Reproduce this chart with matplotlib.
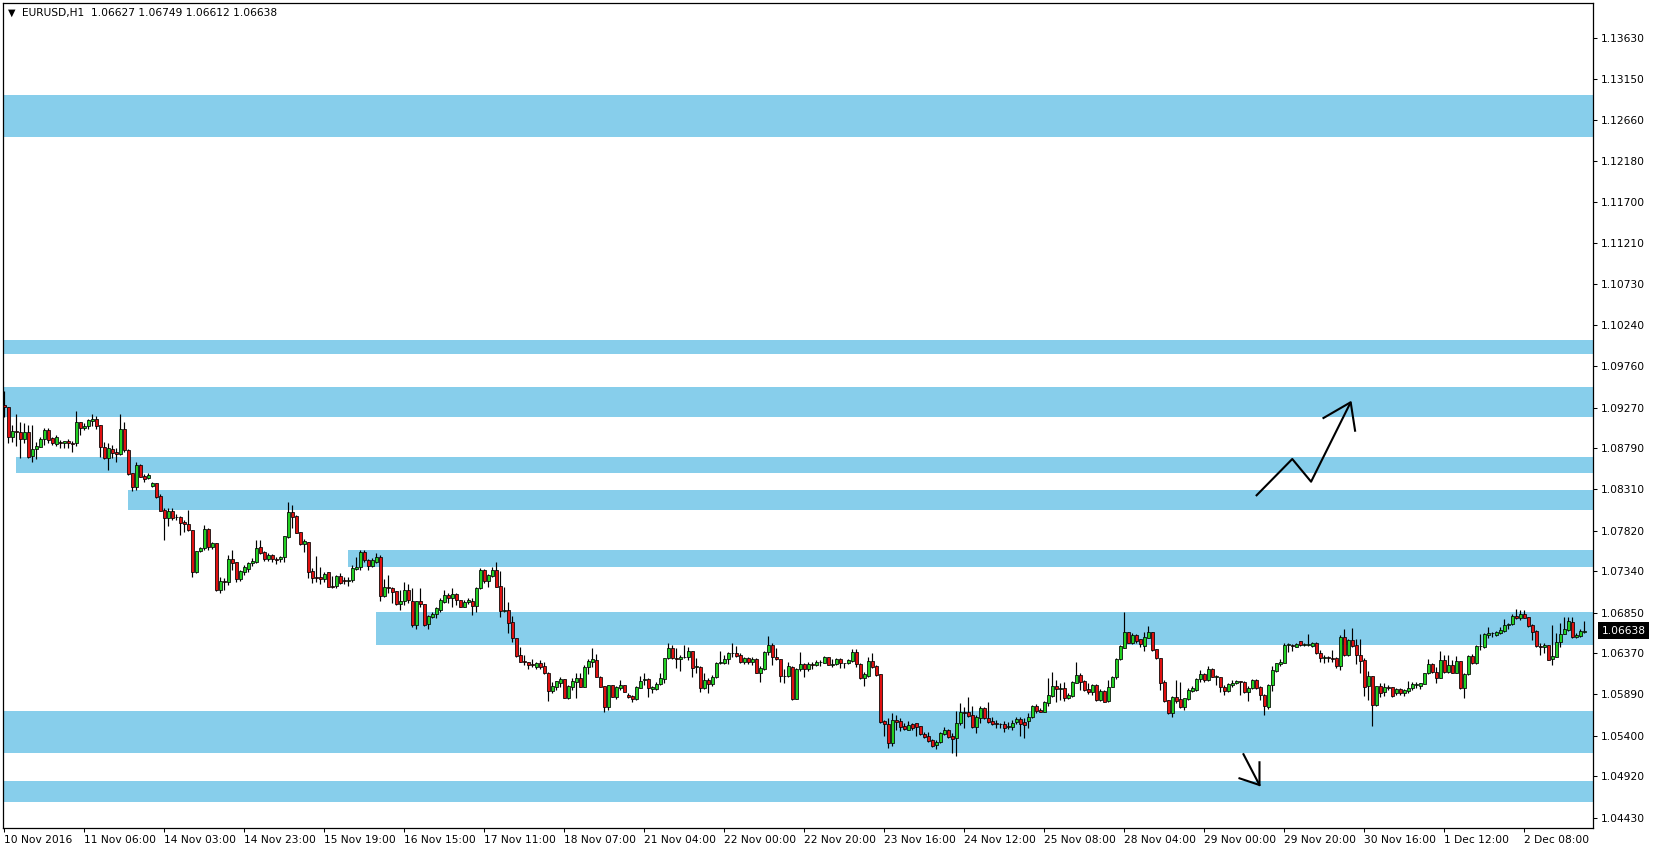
import numpy as np
import matplotlib
matplotlib.use("Agg")
import matplotlib.pyplot as plt
from matplotlib.transforms import blended_transform_factory

plt.rcParams['font.family'] = ['DejaVu Sans']

SYMBOL = "EURUSD,H1"
# hourly candles, values in pips above 1.0000 (1 pip = 0.0001)
open_pips = [
    930.0, 927.4, 892.8, 899.5, 898.7, 890.4, 898.7, 870.4, 877.9, 881.0,
    889.7, 900.3, 890.8, 884.5, 886.5, 884.9, 887.7, 885.7, 884.9, 909.7,
    902.6, 905.4, 910.9, 913.3, 906.6, 880.2, 868.0, 877.9, 874.7, 872.0,
    901.9, 877.1, 849.5, 833.0, 859.0, 846.0, 843.6, 835.0, 837.7, 822.8,
    806.2, 796.4, 805.0, 798.0, 798.0, 792.1, 789.3, 782.2, 733.4, 757.8,
    761.0, 783.4, 763.0, 766.9, 711.8, 722.4, 721.6, 748.0, 744.4, 724.4,
    733.4, 736.2, 743.7, 745.2, 762.2, 756.3, 748.0, 753.1, 748.4, 748.0,
    750.4, 774.0, 803.5, 799.2, 779.9, 765.7, 768.1, 734.2, 727.1, 727.1,
    724.4, 732.6, 716.5, 716.5, 728.3, 723.6, 722.4, 723.6, 737.0, 738.6,
    756.7, 746.8, 740.5, 745.2, 750.8, 705.1, 715.7, 713.8, 710.6, 694.9,
    699.0, 711.8, 699.2, 670.5, 698.8, 694.9, 671.6, 680.3, 683.1, 688.2,
    698.0, 705.9, 701.9, 707.1, 700.0, 692.1, 698.0, 698.8, 693.3, 713.7,
    735.4, 722.8, 728.3, 735.4, 716.5, 687.4, 688.2, 674.0, 654.7, 634.7,
    627.6, 626.4, 624.0, 621.3, 625.2, 622.1, 614.2, 592.9, 597.7, 602.4,
    606.7, 583.9, 597.7, 603.6, 607.5, 597.7, 620.5, 627.2, 629.1, 609.5,
    598.5, 573.3, 599.2, 585.9, 596.5, 599.2, 587.8, 587.0, 582.7, 596.5,
    605.5, 606.7, 595.3, 594.5, 600.4, 606.3, 631.1, 643.3, 631.5, 629.9,
    633.1, 632.3, 639.8, 620.5, 621.3, 595.7, 605.6, 600.4, 608.7, 625.2,
    625.2, 630.0, 637.0, 637.0, 635.1, 627.2, 631.1, 627.2, 630.3, 614.2,
    618.2, 638.2, 646.9, 632.3, 630.0, 610.7, 610.3, 621.3, 583.1, 618.2,
    624.1, 618.2, 624.1, 623.7, 626.6, 626.0, 632.3, 623.7, 624.1, 630.0,
    625.2, 625.2, 628.4, 638.2, 624.1, 608.3, 610.3, 628.0, 622.1, 612.2,
    557.2, 553.2, 531.6, 558.3, 557.2, 551.3, 546.9, 553.2, 554.8, 550.9,
    541.8, 539.1, 534.7, 529.2, 532.0, 541.8, 546.5, 539.5, 536.7, 554.4,
    567.8, 567.8, 563.9, 550.5, 561.1, 572.1, 560.7, 557.2, 554.4, 553.6,
    554.0, 549.7, 550.5, 555.6, 559.5, 556.0, 556.8, 561.5, 574.9, 570.1,
    568.2, 578.0, 587.1, 598.5, 594.5, 595.7, 584.7, 586.7, 602.4, 611.5,
    604.4, 595.3, 591.8, 599.3, 582.0, 593.0, 581.0, 597.0, 608.7, 630.0,
    643.7, 661.8, 649.6, 658.7, 653.6, 646.1, 655.5, 661.8, 641.8, 631.1,
    603.6, 582.0, 567.0, 585.1, 582.7, 574.1, 583.1, 593.0, 593.8, 606.7,
    612.6, 605.0, 618.5, 609.5, 608.7, 596.9, 593.0, 599.7, 601.6, 604.4,
    603.6, 591.8, 595.7, 605.6, 596.9, 587.9, 574.1, 599.7, 616.6, 624.4,
    626.0, 646.9, 646.9, 644.9, 651.2, 647.3, 647.3, 646.1, 649.6, 637.8,
    631.1, 632.3, 631.1, 631.1, 622.1, 655.9, 635.1, 652.8, 646.9, 635.1,
    629.2, 598.9, 610.3, 576.0, 598.5, 591.4, 596.9, 596.9, 590.6, 594.9,
    589.8, 593.0, 595.7, 599.3, 598.5, 601.2, 613.4, 624.4, 614.6, 608.3,
    628.8, 614.6, 623.3, 614.2, 628.0, 595.7, 612.6, 633.9, 625.2, 645.7,
    644.9, 659.1, 661.4, 659.1, 661.4, 663.8, 670.5, 671.3, 681.1, 678.4,
    683.5, 679.5, 670.5, 663.4, 645.7, 644.1, 646.9, 629.9, 633.1, 650.0,
    660.2, 664.6, 674.0, 656.7, 657.9, 662.7,
]
high_pips = [
    946.7, 927.4, 906.6, 919.6, 909.7, 908.5, 906.6, 906.6, 886.5, 892.8,
    903.4, 902.6, 892.0, 894.8, 888.9, 887.7, 889.7, 888.1, 923.1, 910.5,
    908.5, 913.3, 919.2, 917.2, 906.6, 886.5, 884.9, 883.0, 879.0, 919.6,
    909.7, 878.0, 850.0, 863.3, 860.0, 848.3, 849.5, 839.7, 838.0, 824.7,
    808.2, 808.2, 808.2, 801.1, 799.2, 794.4, 806.2, 782.5, 757.8, 763.0,
    788.5, 784.6, 768.0, 767.5, 727.5, 725.6, 753.1, 759.0, 745.0, 735.4,
    741.3, 745.2, 749.2, 770.8, 770.8, 757.8, 755.1, 754.3, 751.2, 751.9,
    775.5, 816.1, 812.1, 800.3, 780.5, 771.6, 769.0, 737.4, 752.3, 739.3,
    732.6, 733.0, 728.3, 729.5, 732.3, 727.5, 727.5, 741.3, 751.2, 759.0,
    759.0, 748.4, 749.2, 755.1, 753.1, 724.4, 729.5, 715.0, 711.0, 711.8,
    721.6, 718.9, 713.7, 699.2, 713.7, 695.5, 681.9, 686.2, 692.1, 701.9,
    711.8, 707.8, 713.7, 707.8, 700.5, 700.0, 701.9, 701.9, 715.7, 737.4,
    736.0, 730.7, 739.3, 744.4, 734.2, 715.7, 698.0, 681.1, 655.0, 644.9,
    635.0, 627.0, 629.9, 626.4, 629.1, 627.2, 614.5, 603.6, 604.4, 609.5,
    607.0, 599.6, 608.3, 613.4, 613.4, 623.2, 629.9, 642.9, 636.2, 610.0,
    599.0, 599.6, 599.6, 598.5, 605.5, 599.8, 590.6, 587.8, 598.5, 610.3,
    614.2, 607.5, 598.5, 602.8, 613.4, 631.1, 648.8, 646.9, 642.9, 635.0,
    646.9, 644.9, 640.0, 631.1, 622.1, 613.4, 607.5, 611.5, 627.2, 639.8,
    635.1, 639.0, 649.6, 645.7, 637.8, 633.1, 632.3, 632.3, 631.1, 622.1,
    639.8, 657.5, 648.8, 642.9, 630.7, 618.5, 627.2, 621.5, 619.3, 639.0,
    626.0, 627.2, 627.2, 629.2, 629.2, 633.9, 633.1, 630.0, 631.1, 631.1,
    626.0, 630.0, 642.2, 642.2, 625.2, 615.4, 632.3, 637.0, 623.3, 612.5,
    558.3, 560.3, 566.2, 564.3, 560.3, 555.2, 557.6, 554.4, 555.2, 551.0,
    544.6, 544.6, 535.5, 534.7, 543.8, 550.5, 548.1, 542.6, 569.0, 578.8,
    573.3, 585.9, 574.9, 564.3, 574.9, 574.1, 579.6, 562.3, 558.3, 555.2,
    557.6, 556.0, 558.3, 561.5, 562.3, 560.3, 566.2, 576.0, 577.2, 572.1,
    581.2, 607.5, 615.4, 605.6, 602.4, 603.6, 589.8, 604.4, 626.8, 613.4,
    605.6, 601.6, 600.4, 600.4, 594.5, 593.8, 605.6, 610.3, 631.1, 646.9,
    686.2, 662.6, 660.6, 659.5, 654.4, 662.6, 669.3, 662.6, 642.0, 631.5,
    605.6, 582.5, 586.7, 605.6, 603.6, 584.7, 595.7, 598.5, 607.5, 617.4,
    614.0, 622.1, 619.3, 611.5, 609.5, 599.7, 601.6, 605.6, 605.6, 604.8,
    604.4, 598.5, 606.3, 607.1, 598.5, 589.0, 600.4, 622.1, 626.0, 630.7,
    648.8, 649.6, 647.7, 649.6, 652.0, 649.6, 659.9, 650.8, 650.4, 641.0,
    635.1, 634.3, 641.0, 633.1, 658.7, 665.4, 653.6, 666.5, 653.6, 653.6,
    631.1, 616.2, 610.5, 598.9, 601.6, 601.6, 599.7, 597.7, 596.5, 596.5,
    594.9, 604.8, 603.6, 603.6, 602.4, 614.2, 630.0, 626.0, 621.3, 639.8,
    635.1, 635.1, 629.2, 633.9, 628.5, 614.2, 635.1, 635.9, 646.9, 659.9,
    661.4, 667.7, 662.6, 663.8, 667.7, 677.2, 673.2, 683.5, 689.4, 688.2,
    688.2, 680.3, 671.3, 664.6, 648.8, 649.6, 647.0, 670.5, 660.6, 672.5,
    680.3, 680.3, 680.3, 661.4, 665.8, 674.9,
]
low_pips = [
    916.4, 885.7, 886.9, 881.8, 868.0, 884.9, 868.0, 863.3, 866.8, 881.0,
    883.0, 885.7, 883.0, 882.2, 879.8, 879.8, 879.8, 874.3, 881.8, 894.8,
    900.7, 901.5, 905.8, 902.3, 869.2, 866.8, 853.1, 867.2, 863.3, 871.2,
    875.1, 848.0, 829.1, 829.8, 845.0, 839.7, 842.4, 833.8, 820.0, 805.0,
    770.8, 787.3, 794.4, 794.4, 776.7, 780.7, 781.4, 727.5, 732.3, 756.3,
    759.0, 759.0, 760.0, 711.0, 708.6, 711.8, 717.7, 735.4, 721.6, 722.4,
    729.5, 733.4, 740.1, 744.0, 754.3, 746.4, 746.4, 745.2, 742.5, 745.2,
    745.2, 772.8, 784.6, 778.7, 765.0, 757.0, 725.6, 720.4, 721.6, 718.9,
    721.6, 714.9, 713.8, 714.5, 718.9, 718.9, 716.5, 721.6, 735.4, 735.4,
    745.2, 735.4, 739.3, 744.0, 699.2, 703.9, 707.9, 696.0, 694.1, 688.2,
    694.1, 696.0, 668.5, 665.3, 692.1, 669.3, 666.1, 678.7, 678.7, 686.2,
    696.0, 696.8, 691.3, 694.1, 691.3, 691.3, 695.3, 682.3, 686.2, 712.6,
    719.7, 714.9, 727.5, 714.9, 680.3, 686.2, 661.4, 650.8, 633.1, 627.0,
    623.2, 618.9, 620.5, 618.9, 618.9, 612.6, 581.1, 589.8, 593.7, 597.7,
    583.9, 582.7, 593.7, 583.9, 596.9, 596.9, 612.6, 621.3, 608.7, 596.9,
    568.1, 570.1, 585.1, 583.5, 593.7, 591.4, 584.7, 580.0, 581.9, 595.7,
    599.6, 585.9, 590.6, 594.0, 599.6, 602.4, 629.9, 629.9, 619.3, 616.6,
    631.1, 629.1, 609.5, 613.4, 591.8, 594.5, 589.8, 598.5, 608.3, 624.1,
    624.1, 624.1, 633.1, 632.3, 625.2, 624.1, 624.4, 623.3, 613.4, 603.6,
    617.4, 635.1, 623.3, 629.2, 603.6, 602.4, 609.5, 582.0, 582.7, 616.6,
    609.5, 616.6, 618.2, 622.1, 622.1, 625.2, 623.3, 621.3, 623.3, 619.3,
    619.3, 624.4, 627.2, 621.3, 606.3, 598.5, 609.5, 619.3, 610.3, 555.2,
    539.5, 525.7, 527.6, 546.5, 545.7, 546.5, 546.5, 546.5, 539.5, 540.6,
    536.7, 532.8, 526.9, 524.1, 530.8, 540.6, 537.5, 519.8, 516.2, 552.4,
    548.5, 562.3, 549.3, 542.6, 555.2, 559.5, 554.4, 552.4, 548.5, 549.3,
    544.6, 548.1, 546.5, 553.6, 539.5, 537.5, 548.5, 561.1, 566.2, 567.4,
    567.4, 574.9, 585.9, 580.0, 582.0, 580.8, 582.7, 585.9, 601.6, 593.8,
    593.0, 589.0, 587.9, 581.2, 580.8, 579.6, 580.0, 596.9, 607.1, 629.2,
    642.9, 648.8, 648.1, 649.6, 644.9, 640.2, 654.7, 640.2, 630.7, 593.8,
    580.0, 565.0, 562.3, 578.8, 572.1, 570.1, 582.0, 591.8, 593.0, 603.6,
    603.0, 604.0, 608.7, 599.7, 591.8, 587.9, 591.8, 597.7, 600.4, 587.9,
    590.6, 581.2, 594.5, 595.3, 582.0, 564.2, 570.9, 593.0, 615.4, 622.1,
    625.2, 639.0, 640.2, 644.1, 645.7, 645.7, 645.7, 644.9, 636.3, 627.2,
    626.0, 627.2, 627.2, 619.3, 617.4, 634.3, 634.3, 644.9, 624.4, 613.4,
    586.7, 581.9, 551.3, 574.9, 585.9, 586.7, 593.8, 585.9, 587.8, 587.8,
    587.1, 589.8, 593.8, 595.7, 594.5, 600.8, 612.6, 613.4, 601.6, 607.5,
    614.2, 614.2, 613.4, 613.4, 594.5, 583.9, 611.5, 624.4, 624.4, 641.0,
    643.7, 654.7, 656.7, 657.5, 659.9, 662.6, 665.8, 670.5, 677.2, 676.4,
    678.4, 667.7, 652.8, 644.9, 635.1, 637.0, 629.0, 623.3, 632.3, 644.1,
    659.5, 663.8, 654.7, 654.7, 656.7, 661.2,
]
close_pips = [
    927.4, 892.8, 899.5, 898.7, 890.4, 898.7, 869.2, 877.9, 881.8, 889.7,
    900.3, 888.9, 884.9, 892.0, 884.9, 887.7, 884.9, 883.8, 909.7, 902.6,
    905.4, 912.5, 913.7, 905.8, 880.2, 868.0, 879.0, 873.1, 872.0, 901.9,
    877.1, 849.1, 833.8, 859.4, 845.6, 842.8, 847.5, 837.7, 822.0, 805.4,
    796.4, 805.0, 797.2, 797.6, 791.3, 789.3, 782.2, 733.4, 757.8, 761.0,
    783.4, 762.2, 766.9, 711.8, 722.4, 721.6, 748.0, 744.0, 724.4, 734.2,
    738.6, 743.7, 746.0, 761.0, 755.9, 748.0, 753.1, 748.0, 747.2, 750.4,
    775.5, 803.5, 797.6, 779.5, 765.7, 769.6, 733.4, 726.3, 726.3, 725.2,
    730.7, 715.7, 715.7, 728.3, 720.4, 722.4, 723.6, 737.4, 738.6, 756.7,
    747.2, 740.5, 747.2, 750.8, 705.1, 714.9, 713.8, 709.8, 694.9, 698.8,
    711.8, 700.0, 670.5, 699.2, 694.9, 670.5, 681.1, 683.4, 690.9, 700.0,
    705.9, 701.9, 707.1, 700.0, 692.1, 698.0, 700.0, 693.3, 713.7, 735.4,
    722.8, 729.5, 735.4, 715.7, 687.4, 688.2, 672.4, 654.7, 633.9, 627.2,
    626.4, 623.6, 622.9, 625.2, 621.3, 613.4, 592.9, 598.5, 604.4, 606.3,
    584.7, 598.5, 604.4, 607.5, 597.7, 620.5, 628.0, 630.3, 609.5, 597.7,
    573.3, 599.2, 585.9, 597.3, 599.6, 591.8, 585.9, 582.7, 597.3, 604.4,
    606.7, 595.7, 597.3, 601.2, 607.9, 631.1, 643.3, 631.1, 630.7, 633.1,
    632.3, 639.8, 620.1, 621.7, 595.7, 605.6, 600.4, 609.5, 625.2, 627.2,
    630.0, 637.0, 637.8, 634.3, 627.2, 631.1, 627.2, 630.3, 614.2, 619.3,
    638.2, 646.9, 632.3, 630.0, 610.7, 609.9, 622.1, 583.1, 618.2, 624.1,
    618.2, 624.1, 623.3, 626.8, 627.0, 632.3, 623.7, 624.1, 630.0, 625.2,
    625.6, 629.2, 638.2, 624.1, 608.3, 612.6, 628.0, 621.3, 611.5, 556.0,
    553.2, 531.6, 558.3, 556.4, 550.1, 548.1, 552.4, 549.3, 550.5, 541.4,
    538.3, 533.9, 527.6, 532.4, 542.6, 546.5, 538.3, 535.5, 554.4, 567.8,
    566.6, 563.5, 550.5, 562.3, 572.1, 560.3, 556.4, 554.0, 553.6, 554.0,
    549.3, 551.3, 554.4, 559.1, 553.2, 552.0, 561.5, 574.9, 569.4, 568.2,
    579.2, 587.9, 598.5, 594.5, 595.7, 584.7, 587.5, 603.2, 611.5, 603.6,
    593.8, 591.8, 599.3, 582.0, 593.0, 580.0, 597.0, 608.7, 630.0, 645.7,
    661.8, 649.6, 658.7, 652.0, 647.7, 656.7, 661.8, 641.0, 631.1, 602.4,
    581.2, 567.0, 585.1, 581.2, 574.1, 583.9, 593.8, 595.7, 606.7, 612.6,
    605.0, 618.5, 609.5, 609.9, 596.9, 593.0, 600.4, 602.4, 604.4, 603.6,
    591.8, 596.5, 605.6, 596.5, 587.5, 574.9, 599.7, 617.4, 625.2, 627.2,
    646.9, 647.7, 645.7, 648.1, 647.3, 648.1, 647.7, 649.6, 637.0, 631.1,
    632.3, 631.1, 630.7, 622.1, 655.9, 635.1, 652.8, 646.1, 635.1, 628.4,
    597.7, 610.3, 576.4, 598.1, 590.6, 596.9, 596.1, 587.1, 594.9, 589.8,
    593.8, 596.1, 600.4, 600.8, 601.6, 613.4, 624.4, 614.6, 608.3, 628.8,
    614.6, 623.3, 614.2, 627.6, 595.7, 612.6, 633.9, 625.2, 645.7, 646.1,
    659.9, 661.4, 660.7, 662.2, 664.6, 670.5, 672.1, 681.1, 678.4, 683.5,
    679.1, 669.3, 662.6, 646.1, 644.1, 646.9, 629.2, 633.9, 650.4, 660.2,
    665.8, 675.2, 656.7, 658.7, 663.4, 663.8,
]

time_labels = ["10 Nov 2016", "11 Nov 06:00", "14 Nov 03:00", "14 Nov 23:00",
               "15 Nov 19:00", "16 Nov 15:00", "17 Nov 11:00", "18 Nov 07:00",
               "21 Nov 04:00", "22 Nov 00:00", "22 Nov 20:00", "23 Nov 16:00",
               "24 Nov 12:00", "25 Nov 08:00", "28 Nov 04:00", "29 Nov 00:00",
               "29 Nov 20:00", "30 Nov 16:00", "1 Dec 12:00", "2 Dec 08:00"]
price_ticks = [1.13630, 1.13150, 1.12660, 1.12180, 1.11700, 1.11210, 1.10730,
               1.10240, 1.09760, 1.09270, 1.08790, 1.08310, 1.07820, 1.07340,
               1.06850, 1.06370, 1.05890, 1.05400, 1.04920, 1.04430]

# support / resistance zones
zone_top = [1.12961, 1.10074, 1.09518, 1.08684, 1.08298, 1.07590, 1.06861, 1.05690, 1.04867]
zone_bottom = [1.12469, 1.09899, 1.09164, 1.08503, 1.08062, 1.07393, 1.06465, 1.05194, 1.04619]
zone_start_bar = [-5, -5, -5, 3, 31, 86, 93, -5, -5]

# hand drawn arrows (bar index, price)
up_path_x = [312.9, 322.0, 326.7, 336.6]
up_path_y = [1.08227, 1.08664, 1.08396, 1.09334]
up_head_x = [329.8, 336.6, 337.7]
up_head_y = [1.09148, 1.09334, 1.08998]
down_path_x = [309.8, 313.8]
down_path_y = [1.05179, 1.04816]
down_head_x = [308.8, 313.8, 313.8]
down_head_y = [1.04895, 1.04816, 1.05084]

# ---------------------------------------------------------------
n = min(len(open_pips), len(high_pips), len(low_pips), len(close_pips))
o = 1.0 + np.array(open_pips[:n]) / 1e4
h = 1.0 + np.array(high_pips[:n]) / 1e4
l = 1.0 + np.array(low_pips[:n]) / 1e4
c = 1.0 + np.array(close_pips[:n]) / 1e4
h = np.maximum(h, np.maximum(o, c))
l = np.minimum(l, np.minimum(o, c))
x = np.arange(n)

W, H = 1654, 852
fig = plt.figure(figsize=(W / 100, H / 100), dpi=100)
fig.patch.set_facecolor('white')
ax_left, ax_right, ax_top, ax_bot = 2.7, 1592.7, 2.7, 827.7
ax = fig.add_axes([ax_left / W, 1 - ax_bot / H, (ax_right - ax_left) / W, (ax_bot - ax_top) / H])
ax.set_facecolor('white')

XMAX = 397.1
ax.set_xlim(-0.375, XMAX)
ax.set_ylim(1.04312, 1.14050)

for top, bot, st in zip(zone_top, zone_bottom, zone_start_bar):
    ax.fill_between([st, XMAX + 5], bot, top, color='#87CEEB', lw=0, zorder=1)

ax.vlines(x, l, h, color='black', lw=0.85, zorder=2)
bull = c >= o
body_bot = np.minimum(o, c)
body_h = np.maximum(np.abs(c - o), 0.000005)
ax.bar(x[bull], body_h[bull], bottom=body_bot[bull], width=0.72, color='#22d022',
       edgecolor='black', linewidth=0.55, zorder=3)
ax.bar(x[~bull], body_h[~bull], bottom=body_bot[~bull], width=0.72, color='#e01010',
       edgecolor='black', linewidth=0.55, zorder=3)

ax.plot(up_path_x, up_path_y, color='black', lw=1.5, zorder=4, solid_capstyle='butt')
ax.plot(up_head_x, up_head_y, color='black', lw=1.5, zorder=4)
ax.plot(down_path_x, down_path_y, color='black', lw=1.5, zorder=4)
ax.plot(down_head_x, down_head_y, color='black', lw=1.5, zorder=4)

for s in ax.spines.values():
    s.set_linewidth(0.9)
    s.set_color('black')

FS = 7.7
ax.yaxis.tick_right()
ax.set_yticks(price_ticks)
ax.set_yticklabels([f"{p:.5f}" for p in price_ticks])
ax.tick_params(axis='y', direction='out', length=3, width=0.75, pad=3, labelsize=FS, colors='black')

xt = np.arange(0, n, 20)[:len(time_labels)]
ax.set_xticks(xt)
ax.set_xticklabels(time_labels[:len(xt)], ha='left')
ax.tick_params(axis='x', direction='out', length=3, width=0.75, pad=2, labelsize=FS, colors='black')

# current price marker
tr = blended_transform_factory(ax.transAxes, ax.transData)
ax.text(1.0 + (1601.5 - ax_right) / (ax_right - ax_left), c[-1], f"{c[-1]:.5f}",
        transform=tr, color='white', fontsize=FS, va='center', ha='left',
        bbox=dict(boxstyle='square,pad=0.3', fc='black', ec='none'), clip_on=False, zorder=6)

# header
fig.text(7.5 / W, 1 - 12.5 / H, "\u25BC", fontsize=7, va='center', ha='left', color='black')
fig.text(21.5 / W, 1 - 12.7 / H,
         f"{SYMBOL}  {o[-1]:.5f} {h[-1]:.5f} {l[-1]:.5f} {c[-1]:.5f}",
         fontsize=FS, va='center', ha='left', color='black')

fig.savefig("out.png", dpi=100, facecolor='white')
